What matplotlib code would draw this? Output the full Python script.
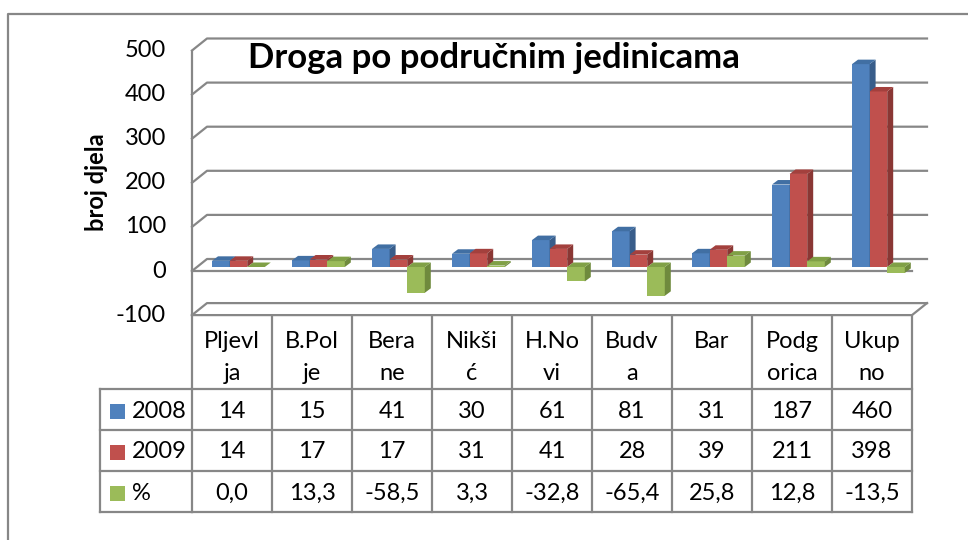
import matplotlib
matplotlib.use("Agg")
import matplotlib.pyplot as plt
from matplotlib.patches import Polygon, Rectangle
from matplotlib.transforms import blended_transform_factory

plt.rcParams["font.family"] = ["Lato", "DejaVu Sans"]

# data
categories = ["Pljevl\nja", "B.Pol\nje", "Bera\nne", "Nikši\nć", "H.No\nvi",
              "Budv\na", "Bar", "Podg\norica", "Ukup\nno"]
series_names = ["2008", "2009", "%"]
v2008 = [14, 15, 41, 30, 61, 81, 31, 187, 460]
v2009 = [14, 17, 17, 31, 41, 28, 39, 211, 398]
pct = [0.0, 13.3, -58.5, 3.3, -32.8, -65.4, 25.8, 12.8, -13.5]
pct_labels = ["0,0", "13,3", "-58,5", "3,3", "-32,8", "-65,4", "25,8", "12,8", "-13,5"]
yticks = [-100, 0, 100, 200, 300, 400, 500]

front_cols = ["#4F81BD", "#C0504D", "#9BBB59"]
side_cols = ["#385D8A", "#8A3734", "#6F8A3D"]
top_cols = ["#416FA3", "#A3403D", "#80A046"]
grid_col = "#878787"

W, H = 968, 540
fig = plt.figure(figsize=(W / 100, H / 100), dpi=100)

# pixel overlay for frame, table and labels
over = fig.add_axes([0, 0, 1, 1])
over.set_xlim(0, W)
over.set_ylim(H, 0)
over.axis("off")

# plot axes: x=-0.5 at px 192, 80 px per category; value 0 at px 267, 0.441 px per unit
py_per = 0.441
top_px, bot_px = 30, 335
ax = fig.add_axes([192 / W, (H - bot_px) / H, 720 / W, (bot_px - top_px) / H])
ax.set_xlim(-0.5, 8.5)
ax.set_ylim((267 - bot_px) / py_per, (267 - top_px) / py_per)
ax.axis("off")
ax.patch.set_alpha(0)

def px_x(p):
    return p / 80.0

def px_y(p):
    return p / py_per

# outer frame
over.plot([8, 8, W + 5], [H + 5, 14, 14], color=grid_col, lw=1.6, solid_capstyle="butt")

# walls and gridlines
x0 = -0.5
x_back = x0 + px_x(15)
x_end = x0 + px_x(735)
for g in yticks:
    yf = g - px_y(4)
    yb = g + px_y(8)
    ax.plot([x0, x_back, x_end], [yf, yb, yb], color=grid_col, lw=1.6,
            clip_on=False, zorder=1)
    if g == 0:
        ax.plot([x0, 8.5], [yf, yf], color=grid_col, lw=1.6, clip_on=False, zorder=1)
    if g == -100:
        ax.plot([x0, 8.5, 8.5 + px_x(15)], [yf, yf, yb], color=grid_col, lw=1.6,
                clip_on=False, zorder=1)
ax.plot([x0, x0], [500 - px_y(4), -100 - px_y(4)], color=grid_col, lw=1.6,
        clip_on=False, zorder=1)

# 3d-ish bars
offsets = [-0.14, 0.08, 0.30]
bw = 0.22
ddx = px_x(6)
ddy = px_y(4.5)
z = 3
for i in range(len(categories)):
    for s, vals in enumerate([v2008, v2009, pct]):
        v = vals[i]
        xl = i + offsets[s] - bw / 2
        xr = xl + bw
        lo, hi = min(0, v), max(0, v)
        ax.bar(xl, v, width=bw, align="edge", color=front_cols[s], zorder=z)
        ax.add_patch(Polygon([(xr, lo), (xr, hi), (xr + ddx, hi + ddy), (xr + ddx, lo + ddy)],
                             closed=True, facecolor=side_cols[s], edgecolor="none", zorder=z))
        ax.add_patch(Polygon([(xl, hi), (xr, hi), (xr + ddx, hi + ddy), (xl + ddx, hi + ddy)],
                             closed=True, facecolor=top_cols[s], edgecolor="none", zorder=z))
        z += 1

# y tick labels and axis title
tr_y = blended_transform_factory(over.transData, ax.transData)
for g in yticks:
    over.text(166, g - px_y(4), str(g), transform=tr_y, ha="right", va="center",
              fontsize=17, color="#000000")
over.text(96, 182, "broj djela", rotation=90, ha="center", va="center",
          fontsize=17, fontweight="bold")
over.text(248, 68, "Droga po područnim jedinicama", ha="left", va="baseline",
          fontsize=25, fontweight="bold")

# data table
tr_x = blended_transform_factory(ax.transData, over.transData)
t_top, rows_y = 316, [389, 430, 471, 512]
for k in range(len(categories) + 1):
    over.plot([k - 0.5, k - 0.5], [t_top, 512], transform=tr_x, color=grid_col, lw=1.6)
for yy in rows_y:
    over.plot([100, 192], [yy, yy], color=grid_col, lw=1.6)
    over.plot([-0.5, 8.5], [yy, yy], transform=tr_x, color=grid_col, lw=1.6)
over.plot([100, 100], [389, 512], color=grid_col, lw=1.6)

for i, lab in enumerate(categories):
    parts = lab.split("\n")
    for j, p in enumerate(parts):
        over.text(i, 342 + 32 * j, p, transform=tr_x, ha="center", va="center", fontsize=17)

row_vals = [[str(v) for v in v2008], [str(v) for v in v2009], pct_labels]
for r, vals in enumerate(row_vals):
    yc = (rows_y[r] + rows_y[r + 1]) / 2 + 1.5
    over.add_patch(Rectangle((110, yc - 7.5), 15, 15, facecolor=front_cols[r], edgecolor="none"))
    over.text(132, yc, series_names[r], ha="left", va="center", fontsize=17)
    for i, t in enumerate(vals):
        over.text(i, yc, t, transform=tr_x, ha="center", va="center", fontsize=17)

fig.savefig("out.png", dpi=100)
